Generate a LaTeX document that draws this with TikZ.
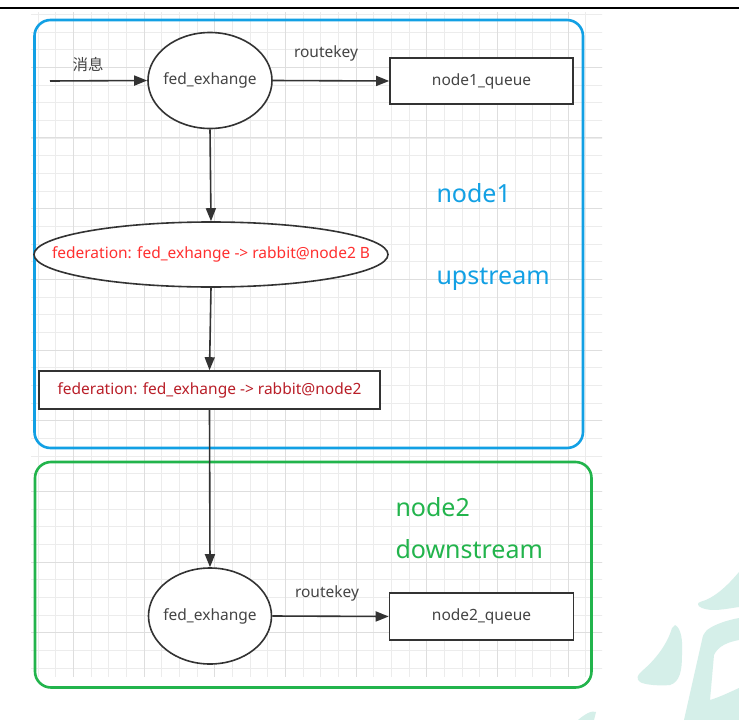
\documentclass[tikz,border=0pt]{standalone}
\usepackage{fontspec}
\setmainfont{Noto Sans}
\newfontfamily\cjk{Noto Sans CJK SC}
\usetikzlibrary{arrows.meta,shapes.geometric}
\definecolor{ink}{RGB}{51,51,51}
\definecolor{labelgrey}{RGB}{68,68,68}
\definecolor{gridminor}{RGB}{236,236,236}
\definecolor{gridmajor}{RGB}{222,222,222}
\definecolor{upblue}{RGB}{18,160,228}
\definecolor{downgreen}{RGB}{34,180,76}
\definecolor{fedred}{RGB}{255,48,48}
\definecolor{linkred}{RGB}{185,30,40}
\definecolor{inkwash}{RGB}{213,239,233}
\tikzset{
  every node/.style={font=\fontsize{15.5}{18}\selectfont, text=labelgrey},
  exch/.style={ellipse, draw=ink, line width=1.6pt, fill=white, inner sep=0pt},
  queuebox/.style={rectangle, draw=ink, line width=1.6pt, fill=white, inner sep=0pt},
  flow/.style={draw=ink, line width=1.6pt, -{Triangle[length=13pt,width=10pt]}},
  zone/.style={rounded corners=16pt, line width=2.6pt},
  tag/.style={font=\fontsize{25}{30}\selectfont, anchor=west},
}
\begin{document}
\begin{tikzpicture}[x=1pt,y=-1pt]
  \useasboundingbox (0,0) rectangle (739,720);
  \fill[white] (0,0) rectangle (739,720);

  % background grid
  \begin{scope}
    \clip (31,12) rectangle (602,676);
    \foreach \i in {0,...,40} {
      \pgfmathsetmacro{\gx}{2.7+17.67*\i}
      \draw[gridminor, line width=0.8pt] (\gx,0) -- (\gx,720);
      \draw[gridminor, line width=0.8pt] (0,{-3.4+17.67*\i}) -- (739,{-3.4+17.67*\i});
    }
    \foreach \i in {0,...,10} {
      \pgfmathsetmacro{\gx}{2.7+70.67*\i}
      \draw[gridmajor, line width=0.9pt] (\gx,0) -- (\gx,720);
      \draw[gridmajor, line width=0.9pt] (0,{-3.4+70.67*\i}) -- (739,{-3.4+70.67*\i});
    }
  \end{scope}

  % watermark strokes
  \fill[inkwash] (700,602) .. controls (715,598) and (728,585) .. (739,572)
    -- (739,607) .. controls (725,609) and (712,612) .. (702,608)
    .. controls (697,606) and (697,603) .. cycle;
  \fill[inkwash] (675,625) .. controls (681,628) and (683,640) .. (682,655)
    .. controls (682,670) and (680,682) .. (670,685)
    .. controls (660,686) and (645,685) .. (640,682)
    .. controls (636,679) and (637,675) .. (642,671)
    .. controls (655,660) and (667,645) .. (672,628) -- cycle;
  \fill[inkwash] (707,630) .. controls (715,624) and (728,620) .. (739,618)
    -- (739,640) .. controls (728,642) and (718,646) .. (714,655)
    -- (710,700) .. controls (720,697) and (730,692) .. (739,688)
    -- (739,720) -- (684,720) -- (702,640) .. controls (703,635) .. cycle;
  \fill[inkwash] (578,720) .. controls (585,714) and (592,710) .. (596,712)
    -- (594,720) -- cycle;

  % top rule
  \draw[black, line width=2pt] (0,8) -- (739,8);

  % zones
  \draw[zone, upblue] (34.5,20) rectangle (583,448);
  \draw[zone, downgreen] (35,462) rectangle (591.5,687.5);
  \node[tag, text=upblue] (n1tag) at (433,193) {node1};
  \node[tag, text=upblue] (uptag) at (433,279) {upstream};
  \node[tag, text=downgreen] (n2tag) at (392,507) {node2};
  \node[tag, text=downgreen] (downtag) at (392,549) {downstream};

  % node1 side
  \node[exch, minimum width=124pt, minimum height=96pt] (ex1) at (210,80.5)
    {\makebox[0pt]{fed\_exhange}};
  \node[queuebox, minimum width=183pt, minimum height=46pt] (q1) at (481.5,81) {node1\_queue};
  \node[exch, minimum width=354pt, minimum height=65pt] (fedlink) at (211,254.5)
    {\makebox[0pt]{\textcolor{fedred}{federation: fed\_exhange -> rabbit@node2 B}}};
  \node[queuebox, minimum width=341pt, minimum height=38pt] (fedq) at (209.5,390)
    {\textcolor{linkred}{federation: fed\_exhange -> rabbit@node2}};
  \coordinate (src) at (50,81);

  % node2 side
  \node[exch, minimum width=123pt, minimum height=96pt] (ex2) at (210,616)
    {\makebox[0pt]{fed\_exhange}};
  \node[queuebox, minimum width=184pt, minimum height=47pt] (q2) at (481.5,616.5) {node2\_queue};

  % connectors and their labels
  \draw[flow] (src) -- (ex1.west);
  \node (msg) at (88,65) {\cjk 消息};
  \draw[flow] (ex1.east) -- (q1.west);
  \node (rk1) at (326,53) {routekey};
  \draw[flow] (ex1.south) -- (fedlink.north);
  \draw[flow] (fedlink.south) -- (fedq.north);
  \draw[flow] (fedq.south) -- (ex2.north);
  \draw[flow] (ex2.east) -- (q2.west);
  \node (rk2) at (327,593) {routekey};
\end{tikzpicture}
\end{document}
